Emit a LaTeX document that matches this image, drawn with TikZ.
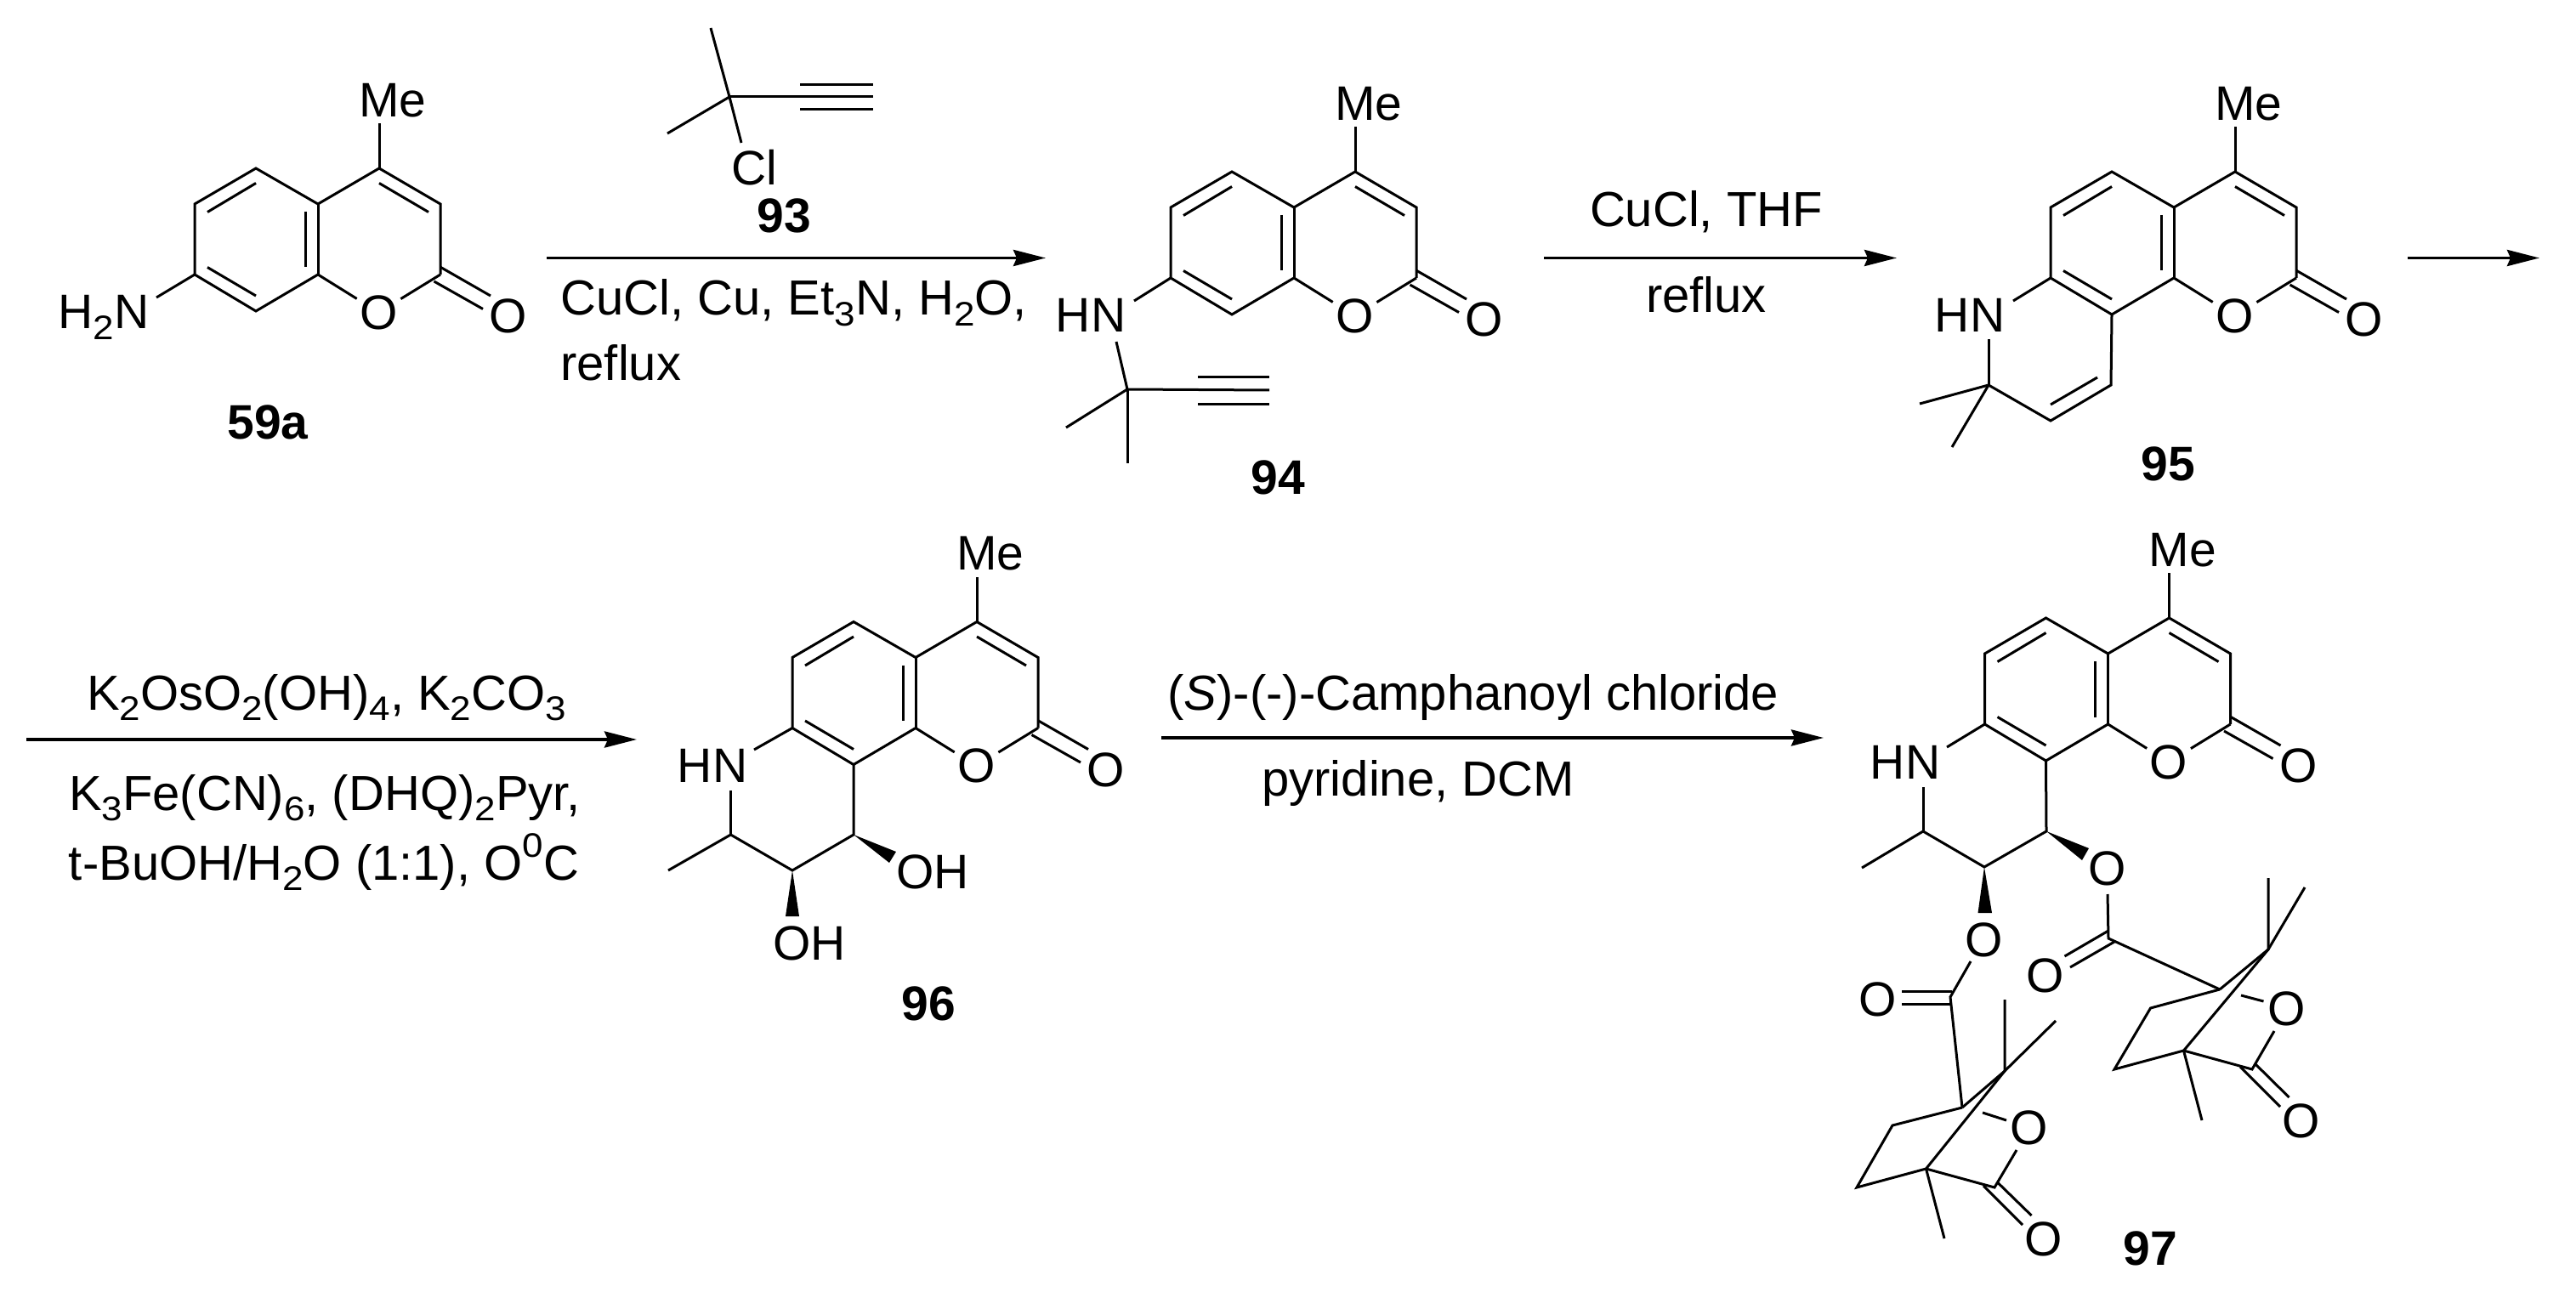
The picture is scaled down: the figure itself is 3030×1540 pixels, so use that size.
\documentclass[tikz,border=0pt]{standalone}
\usepackage{fontspec}
\setmainfont{Liberation Sans}
\usetikzlibrary{arrows.meta}
\newcommand{\chemsub}[1]{\raisebox{-0.22em}{\scalebox{1.1}[1]{\fontsize{20pt}{20pt}\selectfont #1}}}
\newcommand{\chemsup}[1]{\raisebox{0.45em}{\scalebox{1.1}[1]{\fontsize{20pt}{20pt}\selectfont #1}}}
\tikzset{
  bond/.style={line width=1.5pt,line cap=butt,line join=miter,black},
  rxnarrow/.style={line width=1.9pt,-{Stealth[length=19pt,width=9.5pt,inset=2pt]}},
  wedgebond/.style={fill=black,draw=none},
  atom/.style={inner sep=0pt,font=\fontsize{28.5pt}{28.5pt}\selectfont},
  oxy/.style={atom,circle,minimum size=30pt},
  cpd/.style={inner sep=0pt,font=\fontsize{28.5pt}{28.5pt}\selectfont\bfseries},
  reagent/.style={inner sep=0pt,anchor=base west,font=\fontsize{29pt}{29pt}\selectfont},
  reagentc/.style={reagent,anchor=base},
  pxgrid/.style={x=0.5pt,y=-0.5pt}
}
% the coumarin skeleton that recurs in 59a, 94, 95, 96 and 97
\newcommand{\coumarincore}[3]{%
\begin{scope}[shift={(#2,#3)}]
  \coordinate (#1C4) at (446,198);
  \coordinate (#1C3) at (518,240);
  \coordinate (#1C2) at (518,323);
  \coordinate (#1C8a) at (374,323);
  \coordinate (#1C4a) at (374,240);
  \coordinate (#1C5) at (301,198);
  \coordinate (#1C6) at (229,240);
  \coordinate (#1C7) at (229,323);
  \coordinate (#1C8) at (301,366);
  \coordinate (#1MeEnd) at (446,145);
  \coordinate (#1i1) at (301,215.5);
  \coordinate (#1i2) at (244,249.5);
  \coordinate (#1i3) at (244,314.5);
  \coordinate (#1i4) at (301,348);
  \coordinate (#1i5) at (359,249);
  \coordinate (#1i6) at (359,314.5);
  \coordinate (#1i7) at (446,215.5);
  \coordinate (#1i8) at (504,249.5);
  \coordinate (#1d1) at (518.5,314.5);
  \coordinate (#1d2) at (577,348);
  \coordinate (#1d3) at (510.5,331);
  \coordinate (#1d4) at (568,363.5);
  \node[atom] (#1Me) at (462,118) {Me};
  \node[oxy] (#1O1) at (445.5,367.5) {O};
  \node[atom] (#1O2) at (598,372) {O};
  \draw[bond] (#1C8a) -- (#1C8) -- (#1C7) -- (#1C6) -- (#1C5) -- (#1C4a) -- (#1C4) -- (#1C3) -- (#1C2);
  \draw[bond] (#1C4a) -- (#1C8a);
  \draw[bond] (#1C4) -- (#1MeEnd);
  \draw[bond] (#1C8a) -- (#1O1);
  \draw[bond] (#1C2) -- (#1O1);
  \draw[bond] (#1i1) -- (#1i2);
  \draw[bond] (#1i3) -- (#1i4);
  \draw[bond] (#1i5) -- (#1i6);
  \draw[bond] (#1i7) -- (#1i8);
  \draw[bond] (#1d1) -- (#1d2);
  \draw[bond] (#1d3) -- (#1d4);
\end{scope}}
\begin{document}
\begin{tikzpicture}[pxgrid]
\useasboundingbox (0,0) rectangle (3030,1540);

% ---------- 59a
\coumarincore{a}{0}{0}
\node[atom,anchor=base west] (aN) at (68,387) {H\chemsub{2}N};
\coordinate (aNend) at (184,350);
\draw[bond] (aC7) -- (aNend);
\node[cpd] (la) at (315,497) {59a};

% ---------- 93
\coordinate (rC) at (858,114);
\coordinate (rM1) at (836,33);
\coordinate (rM2) at (785,157);
\coordinate (rCl) at (872,168);
\coordinate (rT0) at (1027,114);
\coordinate (rT1a) at (941,99.5);
\coordinate (rT1b) at (1027,99.5);
\coordinate (rT2a) at (941,129);
\coordinate (rT2b) at (1027,129);
\draw[bond] (rM1) -- (rC);
\draw[bond] (rC) -- (rCl);
\draw[bond] (rC) -- (rM2);
\draw[bond] (rC) -- (rT0);
\draw[bond] (rT1a) -- (rT1b);
\draw[bond] (rT2a) -- (rT2b);
\node[atom] (rClt) at (887,197) {Cl};
\node[cpd] (lr) at (922,254) {93};

% ---------- arrow 1
\coordinate (ar1s) at (643,303.5);
\coordinate (ar1e) at (1230,303.5);
\draw[rxnarrow] (ar1s) -- (ar1e);
\node[reagent] (t1) at (659,371) {CuCl, Cu, Et\chemsub{3}N, H\chemsub{2}O,};
\node[reagent] (t2) at (659,448) {reflux};

% ---------- 94
\coumarincore{b}{1148}{4}
\node[atom] (bN) at (1283,371) {HN};
\coordinate (bNend) at (1334,354);
\coordinate (bNend2) at (1313,402);
\coordinate (bC) at (1326,458);
\coordinate (bM1) at (1254,503);
\coordinate (bM2) at (1326,545);
\coordinate (bT0) at (1493,459);
\coordinate (bT1a) at (1409,444);
\coordinate (bT1b) at (1493,444);
\coordinate (bT2a) at (1409,475);
\coordinate (bT2b) at (1493,475);
\draw[bond] (bC7) -- (bNend);
\draw[bond] (bNend2) -- (bC);
\draw[bond] (bC) -- (bM1);
\draw[bond] (bC) -- (bM2);
\draw[bond] (bC) -- (bT0);
\draw[bond] (bT1a) -- (bT1b);
\draw[bond] (bT2a) -- (bT2b);
\node[cpd] (lb) at (1503,562) {94};

% ---------- arrow 2
\coordinate (ar2s) at (1816,303.5);
\coordinate (ar2e) at (2231,303.5);
\draw[rxnarrow] (ar2s) -- (ar2e);
\node[reagentc] (t3) at (2007,267) {CuCl, THF};
\node[reagentc] (t4) at (2007,368) {reflux};

% ---------- 95
\coumarincore{c}{2183}{4}
\node[atom] (cN) at (2317,371) {HN};
\coordinate (cNend) at (2368,354);
\coordinate (cNend2) at (2339,399);
\coordinate (cC) at (2339,453);
\coordinate (cM1) at (2258,475);
\coordinate (cM2) at (2296,526);
\coordinate (cV1) at (2412,495);
\coordinate (cV2) at (2483,453);
\coordinate (cI1) at (2412,476);
\coordinate (cI2) at (2467,444);
\draw[bond] (cC7) -- (cNend);
\draw[bond] (cNend2) -- (cC);
\draw[bond] (cC) -- (cM1);
\draw[bond] (cC) -- (cM2);
\draw[bond] (cC) -- (cV1) -- (cV2) -- (cC8);
\draw[bond] (cI1) -- (cI2);
\node[cpd] (lc) at (2550,546) {95};

% ---------- arrow 3 (continues on the second row)
\coordinate (ar3s) at (2832,303.5);
\coordinate (ar3e) at (2987,303.5);
\draw[rxnarrow] (ar3s) -- (ar3e);
\coordinate (ar3bs) at (31,870);
\coordinate (ar3be) at (749,870);
\draw[rxnarrow] (ar3bs) -- (ar3be);
\node[reagentc] (t5) at (384,835) {K\chemsub{2}OsO\chemsub{2}(OH)\chemsub{4}, K\chemsub{2}CO\chemsub{3}};
\node[reagentc] (t6) at (382,953) {K\chemsub{3}Fe(CN)\chemsub{6}, (DHQ)\chemsub{2}Pyr,};
\node[reagentc] (t7) at (381,1035) {t-BuOH/H\chemsub{2}O (1:1), O\chemsup{0}C};

% ---------- 96
\coumarincore{d}{703}{533.5}
\node[atom] (dN) at (838,901) {HN};
\coordinate (dNend) at (887,882);
\coordinate (dNend2) at (859.5,930);
\coordinate (dC1) at (859.5,982);
\coordinate (dM) at (786,1024);
\coordinate (dC2) at (932,1024);
\coordinate (dC3) at (1004,982);
\coordinate (dW1a) at (1054,1002);
\coordinate (dW1b) at (1046,1015);
\coordinate (dW2a) at (924,1078);
\coordinate (dW2b) at (940,1078);
\draw[bond] (dC7) -- (dNend);
\draw[bond] (dNend2) -- (dC1);
\draw[bond] (dM) -- (dC1) -- (dC2) -- (dC3) -- (dC8);
\fill[wedgebond] (dC3) -- (dW1a) -- (dW1b) -- cycle;
\fill[wedgebond] (dC2) -- (dW2a) -- (dW2b) -- cycle;
\node[atom] (dOH1) at (1097,1026) {OH};
\node[atom] (dOH2) at (952,1110) {OH};
\node[cpd] (ld) at (1092,1181) {96};

% ---------- arrow 4
\coordinate (ar4s) at (1366,868);
\coordinate (ar4e) at (2145,868);
\draw[rxnarrow] (ar4s) -- (ar4e);
\node[reagentc] (t8) at (1733,835) {(\textit{S})-(-)-Camphanoyl chloride};
\node[reagent] (t9) at (1484,936) {pyridine, DCM};

% ---------- 97
\coumarincore{e}{2105.5}{529}
\node[atom] (eN) at (2241,897) {HN};
\coordinate (eNend) at (2290,879);
\coordinate (eNend2) at (2262,926);
\coordinate (eC1) at (2262,978);
\coordinate (eM) at (2190,1021);
\coordinate (eC2) at (2334,1020);
\coordinate (eC3) at (2407,978);
\coordinate (eW1a) at (2457,998);
\coordinate (eW1b) at (2449,1012);
\coordinate (eW2a) at (2326.5,1074);
\coordinate (eW2b) at (2343,1074);
\draw[bond] (eC7) -- (eNend);
\draw[bond] (eNend2) -- (eC1);
\draw[bond] (eM) -- (eC1) -- (eC2) -- (eC3) -- (eC8);
\fill[wedgebond] (eC3) -- (eW1a) -- (eW1b) -- cycle;
\fill[wedgebond] (eC2) -- (eW2a) -- (eW2b) -- cycle;
\node[atom] (eOa) at (2479,1022) {O};
\node[atom] (eOb) at (2334,1106) {O};

% left camphanoyl ester
\coordinate (fOe) at (2318,1131);
\coordinate (fCO) at (2294,1173);
\coordinate (fD1a) at (2237,1166);
\coordinate (fD1b) at (2296,1166);
\coordinate (fD2a) at (2237,1181);
\coordinate (fD2b) at (2294,1181);
\coordinate (fA) at (2308,1303);
\coordinate (fB) at (2358,1260);
\coordinate (fM1) at (2358,1176);
\coordinate (fM2) at (2418,1201);
\coordinate (fQ) at (2265.5,1375);
\coordinate (fP1) at (2226,1324);
\coordinate (fP2) at (2184,1397);
\coordinate (fL) at (2346,1397);
\coordinate (fOr1) at (2372,1353);
\coordinate (fOr2) at (2360,1318);
\coordinate (fOr3) at (2332,1309);
\coordinate (fM3) at (2287,1457);
\coordinate (fE1a) at (2349.5,1391);
\coordinate (fE1b) at (2389.5,1430);
\coordinate (fE2a) at (2333,1395);
\coordinate (fE2b) at (2379,1441);
\draw[bond] (fOe) -- (fCO) -- (fA);
\draw[bond] (fD1a) -- (fD1b);
\draw[bond] (fD2a) -- (fD2b);
\draw[bond] (fA) -- (fB) -- (fM1);
\draw[bond] (fM2) -- (fB) -- (fQ);
\draw[bond] (fA) -- (fP1) -- (fP2) -- (fQ) -- (fL) -- (fOr1);
\draw[bond] (fOr2) -- (fOr3);
\draw[bond] (fQ) -- (fM3);
\draw[bond] (fE1a) -- (fE1b);
\draw[bond] (fE2a) -- (fE2b);
\node[atom] (fOd) at (2209,1176) {O};
\node[atom] (fOr) at (2387,1327) {O};
\node[atom] (fOl) at (2404,1458) {O};

% right camphanoyl ester
\coordinate (gOe) at (2479,1052);
\coordinate (gCO) at (2480,1104);
\coordinate (gD1a) at (2480,1095);
\coordinate (gD1b) at (2428.5,1125);
\coordinate (gD2a) at (2487,1108);
\coordinate (gD2b) at (2435,1138);
\coordinate (gA) at (2611,1164);
\coordinate (gB) at (2668,1117);
\coordinate (gM1) at (2668,1033);
\coordinate (gM2) at (2711,1044);
\coordinate (gQ) at (2568.5,1236);
\coordinate (gP1) at (2529.5,1186);
\coordinate (gP2) at (2487,1258);
\coordinate (gL) at (2649,1258);
\coordinate (gOr1) at (2675,1213);
\coordinate (gOr2) at (2662.5,1178);
\coordinate (gOr3) at (2636,1171);
\coordinate (gM3) at (2590,1318);
\coordinate (gE1a) at (2653,1252);
\coordinate (gE1b) at (2692.5,1291);
\coordinate (gE2a) at (2635,1255);
\coordinate (gE2b) at (2682,1302);
\draw[bond] (gOe) -- (gCO) -- (gA);
\draw[bond] (gD1a) -- (gD1b);
\draw[bond] (gD2a) -- (gD2b);
\draw[bond] (gA) -- (gB) -- (gM1);
\draw[bond] (gM2) -- (gB) -- (gQ);
\draw[bond] (gA) -- (gP1) -- (gP2) -- (gQ) -- (gL) -- (gOr1);
\draw[bond] (gOr2) -- (gOr3);
\draw[bond] (gQ) -- (gM3);
\draw[bond] (gE1a) -- (gE1b);
\draw[bond] (gE2a) -- (gE2b);
\node[atom] (gOd) at (2405.5,1148) {O};
\node[atom] (gOr) at (2690,1187) {O};
\node[atom] (gOl) at (2707,1319) {O};
\node[cpd] (le) at (2529,1469) {97};
\end{tikzpicture}
\end{document}
